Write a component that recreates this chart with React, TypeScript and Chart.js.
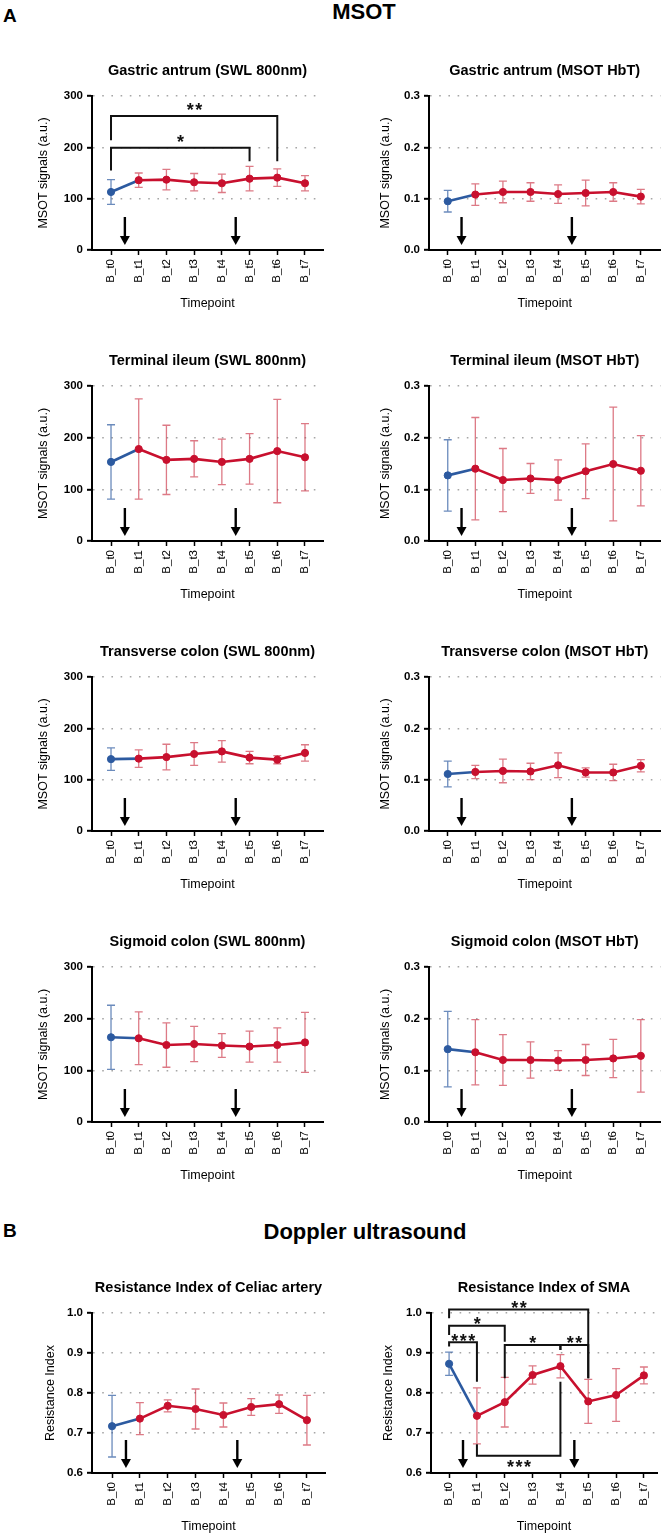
import React, { useEffect, useRef } from "react";
import { Chart, registerables } from "chart.js";

Chart.register(...registerables);

const FONT = "'Liberation Sans', Arial, Helvetica, sans-serif";

// ---------- categories ----------
const TIMEPOINTS = ["B_t0", "B_t1", "B_t2", "B_t3", "B_t4", "B_t5", "B_t6", "B_t7"];
const INTERVENTION_POSITIONS = [0.5, 4.5];

// ---------- MSOT data (mean, SD) ----------
const GA_SWL_MEAN = [113, 136, 137, 132, 130, 139, 141, 130];
const GA_SWL_SD = [24, 14, 20, 17, 18, 24, 17, 15];
const GA_HBT_MEAN = [0.095, 0.108, 0.113, 0.113, 0.109, 0.111, 0.113, 0.104];
const GA_HBT_SD = [0.021, 0.021, 0.021, 0.018, 0.018, 0.025, 0.018, 0.014];

const TI_SWL_MEAN = [153, 178, 157, 159, 153, 159, 174, 162];
const TI_SWL_SD = [72, 97, 67, 35, 44, 49, 100, 65];
const TI_HBT_MEAN = [0.127, 0.14, 0.118, 0.121, 0.118, 0.135, 0.149, 0.136];
const TI_HBT_SD = [0.069, 0.099, 0.061, 0.029, 0.039, 0.053, 0.11, 0.068];

const TC_SWL_MEAN = [140, 141, 144, 150, 155, 143, 139, 152];
const TC_SWL_SD = [22, 17, 25, 22, 21, 12, 8, 16];
const TC_HBT_MEAN = [0.111, 0.115, 0.117, 0.116, 0.128, 0.114, 0.114, 0.127];
const TC_HBT_SD = [0.025, 0.013, 0.023, 0.016, 0.024, 0.009, 0.016, 0.012];

const SC_SWL_MEAN = [164, 162, 149, 151, 148, 146, 149, 154];
const SC_SWL_SD = [62, 51, 43, 34, 23, 30, 33, 58];
const SC_HBT_MEAN = [0.141, 0.135, 0.12, 0.12, 0.119, 0.12, 0.123, 0.128];
const SC_HBT_SD = [0.073, 0.063, 0.049, 0.035, 0.019, 0.03, 0.037, 0.07];

// ---------- Doppler data ----------
const CA_RI_MEAN = [0.717, 0.736, 0.768, 0.76, 0.745, 0.765, 0.772, 0.732];
const CA_RI_SD = [0.077, 0.04, 0.015, 0.05, 0.03, 0.021, 0.023, 0.062];
const SMA_RI_MEAN = [0.873, 0.743, 0.777, 0.845, 0.867, 0.779, 0.795, 0.844];
const SMA_RI_SD = [0.029, 0.07, 0.062, 0.023, 0.029, 0.055, 0.066, 0.021];

// ---------- significance brackets (data units) ----------
const GA_SWL_BRACKETS = [
  { from: 0, to: 6, y: 261, leg1: 214, leg2: 173, label: "**", labelY: 280 },
  { from: 0, to: 5, y: 199, leg1: 155, leg2: 173, label: "*", labelY: 219 },
];
const SMA_BRACKETS = [
  { from: 0, to: 5, y: 1.009, leg1: 0.987, leg2: 0.837, label: "**", labelY: 1.023 },
  { from: 0, to: 2, y: 0.968, leg1: 0.945, leg2: 0.928, label: "*", labelY: 0.982 },
  { from: 0, to: 1, y: 0.927, leg1: 0.916, leg2: 0.828, label: "***", labelY: 0.941 },
  { from: 2, to: 4, y: 0.92, leg1: 0.837, leg2: 0.9075, label: "*", labelY: 0.934 },
  { from: 4, to: 5, y: 0.92, leg1: 0.9075, leg2: 0.837, label: "**", labelY: 0.934 },
  { from: 1, to: 4, y: 0.643, leg1: 0.672, leg2: 0.828, label: "***", labelY: 0.626 },
];

// ---------- styles ----------
const RED = "#c8102e";
const BLUE = "#2c5aa0";
const RED_ERR = "rgba(200,40,60,0.62)";
const BLUE_ERR = "rgba(44,90,160,0.7)";

const SWL_AXIS = { min: 0, max: 300, step: 100, dec: 0 };
const HBT_AXIS = { min: 0, max: 0.3, step: 0.1, dec: 1 };
const RI_AXIS = { min: 0.6, max: 1.0, step: 0.1, dec: 1 };

const COL_L = { left: 0, width: 332, yw: 92, padRight: 9, xMin: -0.686, xMax: 7.65, yTitleX: 44 };
const COL_R = { left: 332, width: 333, yw: 97, padRight: 1, xMin: -0.68, xMax: 7.71, yTitleX: 54 };
const DOP_L = { left: 0, width: 332, yw: 92, padRight: 7, xMin: -0.72, xMax: 7.65, yTitleX: 51 };
const DOP_R = { left: 332, width: 333, yw: 99, padRight: 8, xMin: -0.65, xMax: 7.47, yTitleX: 57 };

type Bracket = { from: number; to: number; y: number; leg1: number; leg2: number; label: string; labelY: number };

type PanelDef = {
  title: string;
  yTitle: string;
  mean: number[];
  sd: number[];
  axis: { min: number; max: number; step: number; dec: number };
  col: typeof COL_L;
  chartTop: number;
  plotH: number;
  brackets: Bracket[];
};

const MSOT_Y = "MSOT signals (a.u.)";
const RI_Y = "Resistance Index";

const PANELS: PanelDef[] = [
  { title: "Gastric antrum (SWL 800nm)", yTitle: MSOT_Y, mean: GA_SWL_MEAN, sd: GA_SWL_SD, axis: SWL_AXIS, col: COL_L, chartTop: 96, plotH: 154, brackets: GA_SWL_BRACKETS },
  { title: "Gastric antrum (MSOT HbT)", yTitle: MSOT_Y, mean: GA_HBT_MEAN, sd: GA_HBT_SD, axis: HBT_AXIS, col: COL_R, chartTop: 96, plotH: 154, brackets: [] },
  { title: "Terminal ileum (SWL 800nm)", yTitle: MSOT_Y, mean: TI_SWL_MEAN, sd: TI_SWL_SD, axis: SWL_AXIS, col: COL_L, chartTop: 386, plotH: 155, brackets: [] },
  { title: "Terminal ileum (MSOT HbT)", yTitle: MSOT_Y, mean: TI_HBT_MEAN, sd: TI_HBT_SD, axis: HBT_AXIS, col: COL_R, chartTop: 386, plotH: 155, brackets: [] },
  { title: "Transverse colon (SWL 800nm)", yTitle: MSOT_Y, mean: TC_SWL_MEAN, sd: TC_SWL_SD, axis: SWL_AXIS, col: COL_L, chartTop: 677, plotH: 154, brackets: [] },
  { title: "Transverse colon (MSOT HbT)", yTitle: MSOT_Y, mean: TC_HBT_MEAN, sd: TC_HBT_SD, axis: HBT_AXIS, col: COL_R, chartTop: 677, plotH: 154, brackets: [] },
  { title: "Sigmoid colon (SWL 800nm)", yTitle: MSOT_Y, mean: SC_SWL_MEAN, sd: SC_SWL_SD, axis: SWL_AXIS, col: COL_L, chartTop: 967, plotH: 155, brackets: [] },
  { title: "Sigmoid colon (MSOT HbT)", yTitle: MSOT_Y, mean: SC_HBT_MEAN, sd: SC_HBT_SD, axis: HBT_AXIS, col: COL_R, chartTop: 967, plotH: 155, brackets: [] },
  { title: "Resistance Index of Celiac artery", yTitle: RI_Y, mean: CA_RI_MEAN, sd: CA_RI_SD, axis: RI_AXIS, col: DOP_L, chartTop: 1313, plotH: 160, brackets: [] },
  { title: "Resistance Index of SMA", yTitle: RI_Y, mean: SMA_RI_MEAN, sd: SMA_RI_SD, axis: RI_AXIS, col: DOP_R, chartTop: 1313, plotH: 160, brackets: SMA_BRACKETS },
];

const TOP_SPACE = 45;
const BOTTOM_SPACE = 62;
const X_SCALE_H = 61;
const TITLE_SIZE = 14.5;
const TITLE_PAD_BOTTOM = 16;
const AXIS_TITLE_SIZE = 12.5;

function PanelChart({ p }: { p: PanelDef }) {
  const ref = useRef<HTMLCanvasElement>(null);
  const canvasTop = p.chartTop - TOP_SPACE;
  const canvasH = TOP_SPACE + p.plotH + BOTTOM_SPACE;

  useEffect(() => {
    const canvas = ref.current;
    if (!canvas) return;
    const { min, max, step, dec } = p.axis;

    const annot = {
      id: "annot",
      beforeDatasetsDraw(chart: any) {
        const { ctx } = chart;
        const xs = chart.scales.x;
        const ys = chart.scales.y;
        ctx.save();
        p.mean.forEach((m, i) => {
          const px = xs.getPixelForValue(i);
          const top = ys.getPixelForValue(m + p.sd[i]);
          const bot = ys.getPixelForValue(m - p.sd[i]);
          ctx.strokeStyle = i === 0 ? BLUE_ERR : RED_ERR;
          ctx.lineWidth = 1.3;
          ctx.beginPath();
          ctx.moveTo(px, top);
          ctx.lineTo(px, bot);
          ctx.moveTo(px - 4, top);
          ctx.lineTo(px + 4, top);
          ctx.moveTo(px - 4, bot);
          ctx.lineTo(px + 4, bot);
          ctx.stroke();
        });
        ctx.restore();
      },
      afterDraw(chart: any) {
        const { ctx, chartArea } = chart;
        const xs = chart.scales.x;
        const ys = chart.scales.y;
        ctx.save();
        // intervention arrows
        INTERVENTION_POSITIONS.forEach((a) => {
          const px = xs.getPixelForValue(a);
          const yb = chartArea.bottom;
          ctx.strokeStyle = "#000";
          ctx.fillStyle = "#000";
          ctx.lineWidth = 2.4;
          ctx.beginPath();
          ctx.moveTo(px, yb - 33);
          ctx.lineTo(px, yb - 13);
          ctx.stroke();
          ctx.beginPath();
          ctx.moveTo(px - 5, yb - 14);
          ctx.lineTo(px + 5, yb - 14);
          ctx.lineTo(px, yb - 5);
          ctx.closePath();
          ctx.fill();
        });
        // significance brackets
        p.brackets.forEach((b) => {
          const x1 = xs.getPixelForValue(b.from);
          const x2 = xs.getPixelForValue(b.to);
          const y = ys.getPixelForValue(b.y);
          ctx.strokeStyle = "#111";
          ctx.lineWidth = 2;
          ctx.beginPath();
          ctx.moveTo(x1, ys.getPixelForValue(b.leg1));
          ctx.lineTo(x1, y);
          ctx.lineTo(x2, y);
          ctx.lineTo(x2, ys.getPixelForValue(b.leg2));
          ctx.stroke();
          ctx.fillStyle = "#111";
          ctx.font = `bold 18px ${FONT}`;
          try { (ctx as any).letterSpacing = "1.5px"; } catch (e) {}
          ctx.textAlign = "center";
          ctx.textBaseline = "alphabetic";
          ctx.fillText(b.label, (x1 + x2) / 2 + 1, ys.getPixelForValue(b.labelY) + 10);
          try { (ctx as any).letterSpacing = "0px"; } catch (e) {}
        });
        ctx.restore();
      },
    };

    const chart = new Chart(canvas, {
      type: "line",
      data: {
        datasets: [
          {
            data: p.mean.map((v, i) => ({ x: i, y: v })),
            borderColor: RED,
            borderWidth: 2.6,
            pointRadius: 3.6,
            pointHoverRadius: 3.6,
            pointBackgroundColor: p.mean.map((_, i) => (i === 0 ? BLUE : RED)),
            pointBorderColor: p.mean.map((_, i) => (i === 0 ? BLUE : RED)),
            pointBorderWidth: 1,
            tension: 0,
            segment: {
              borderColor: (c: any) => (c.p0DataIndex === 0 ? BLUE : RED),
            },
          } as any,
        ],
      },
      options: {
        responsive: false,
        animation: false,
        events: [],
        layout: {
          padding: {
            top: TOP_SPACE - (TITLE_SIZE * 1.2 + TITLE_PAD_BOTTOM),
            left: 0,
            right: p.col.padRight,
            bottom: BOTTOM_SPACE - X_SCALE_H,
          },
        },
        plugins: {
          legend: { display: false },
          tooltip: { enabled: false },
          title: {
            display: true,
            text: p.title,
            fullSize: false,
            color: "#000",
            font: { family: FONT, size: TITLE_SIZE, weight: "bold" },
            padding: { top: 0, bottom: TITLE_PAD_BOTTOM },
          },
        },
        scales: {
          x: {
            type: "linear",
            min: p.col.xMin,
            max: p.col.xMax,
            afterBuildTicks: (s: any) => {
              s.ticks = TIMEPOINTS.map((_, i) => ({ value: i }));
            },
            afterFit: (s: any) => {
              s.height = X_SCALE_H;
            },
            ticks: {
              autoSkip: false,
              minRotation: 90,
              maxRotation: 90,
              padding: 4,
              color: "#000",
              font: { family: FONT, size: 11.5 },
              callback: (v: any) => TIMEPOINTS[Math.round(Number(v))] ?? "",
            },
            grid: {
              drawOnChartArea: false,
              drawTicks: true,
              tickLength: 5,
              tickColor: "#000",
              tickWidth: 1.5,
              color: "#000",
            },
            border: { display: true, color: "#000", width: 2 },
            title: {
              display: true,
              text: "Timepoint",
              color: "#000",
              font: { family: FONT, size: AXIS_TITLE_SIZE },
              padding: { top: 0, bottom: 0 },
            },
          },
          y: {
            type: "linear",
            min,
            max,
            afterFit: (s: any) => {
              s.width = p.col.yw;
            },
            ticks: {
              stepSize: step,
              padding: 4,
              color: "#000",
              font: { family: FONT, size: 11.5, weight: "bold" },
              callback: (v: any) => Number(v).toFixed(dec),
            },
            grid: {
              drawOnChartArea: true,
              color: (c: any) =>
                c.tick && Math.abs(c.tick.value - min) < 1e-9 ? "rgba(0,0,0,0)" : "#a6a6a6",
              lineWidth: 1.6,
              drawTicks: true,
              tickLength: 5,
              tickColor: "#000",
              tickWidth: 2,
              tickBorderDash: [],
            } as any,
            border: { display: true, color: "#000", width: 2, dash: [1.6, 7.6] },
            title: {
              display: true,
              text: p.yTitle,
              color: "#000",
              font: { family: FONT, size: AXIS_TITLE_SIZE },
              padding: { top: p.col.yTitleX - (AXIS_TITLE_SIZE * 1.2) / 2, bottom: 0 },
            },
          },
        },
      } as any,
      plugins: [annot as any],
    });
    return () => chart.destroy();
  }, []);

  return (
    <div style={{ position: "absolute", left: p.col.left, top: canvasTop, width: p.col.width, height: canvasH }}>
      <canvas ref={ref} width={p.col.width} height={canvasH} style={{ display: "block" }} />
    </div>
  );
}

export default function App() {
  const head: React.CSSProperties = { position: "absolute", fontWeight: "bold", color: "#000", fontFamily: FONT };
  return (
    <div style={{ position: "absolute", left: 0, top: 0, width: 665, height: 1536, background: "#fff", fontFamily: FONT }}>
      <div style={{ ...head, left: 3, top: 6, fontSize: 19, lineHeight: "19px" }}>A</div>
      <div style={{ ...head, left: 264, width: 200, textAlign: "center", top: 1, fontSize: 22, lineHeight: "22px" }}>MSOT</div>
      <div style={{ ...head, left: 3, top: 1221, fontSize: 19, lineHeight: "19px" }}>B</div>
      <div style={{ ...head, left: 215, width: 300, textAlign: "center", top: 1221, fontSize: 22, lineHeight: "22px" }}>Doppler ultrasound</div>
      {PANELS.map((p, i) => (
        <PanelChart key={i} p={p} />
      ))}
    </div>
  );
}
